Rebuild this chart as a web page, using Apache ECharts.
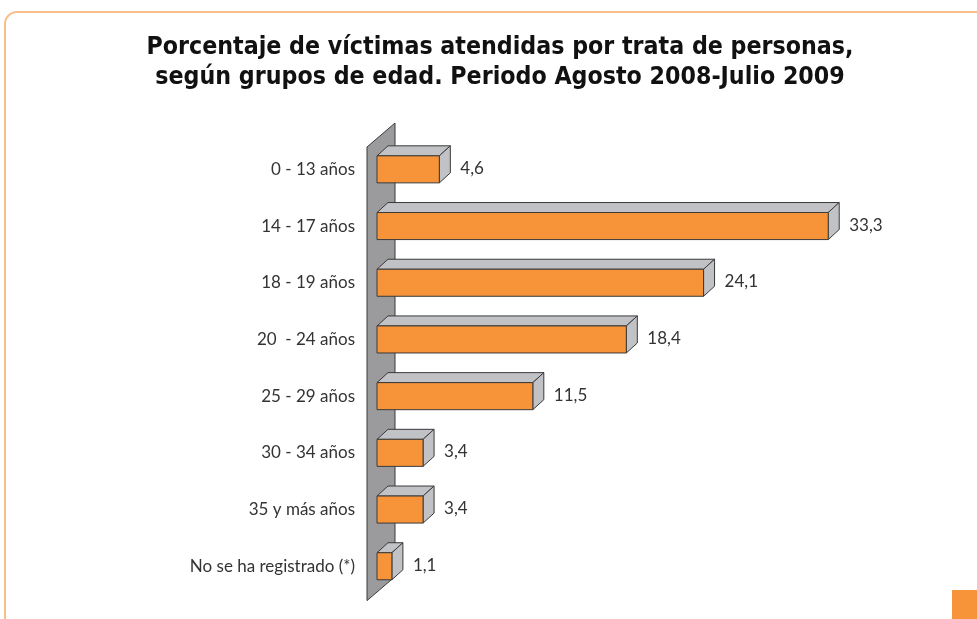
<!DOCTYPE html>
<html>
<head>
<meta charset="utf-8">
<script src="https://cdn.jsdelivr.net/npm/echarts@6/dist/echarts.min.js"></script>
<style>
html,body{margin:0;padding:0;background:#fff;}
#main{width:977px;height:619px;}
</style>
</head>
<body>
<div id="main"></div>
<script>
const titleLines = [
  'Porcentaje de víctimas atendidas por trata de personas,',
  'según grupos de edad. Periodo Agosto 2008-Julio 2009'
];
const categories = ['0 - 13 años','14 - 17 años','18 - 19 años','20  - 24 años','25 - 29 años','30 - 34 años','35 y más años','No se ha registrado (*)'];
const values = [4.6, 33.3, 24.1, 18.4, 11.5, 3.4, 3.4, 1.1];

const ORANGE = '#f7943a';
const SIDE = '#c1c2c5';
const WALL = '#9b9b9e';
const EDGE = '#3a3a3a';

const chart = echarts.init(document.getElementById('main'), null, {renderer:'canvas'});

function fmt(v){ return v.toFixed(1).replace('.', ','); }

const option = {
  backgroundColor: '#ffffff',
  animation: false,
  title: {
    text: titleLines.join('\n'),
    left: 495, top: 28, textAlign: 'center',
    textStyle: {fontFamily: 'DejaVu Sans Condensed', fontWeight: 'bold', fontSize: 24.7, lineHeight: 30, color: '#111'}
  },
  graphic: [
    {type:'rect', shape:{x:5, y:12, width:1100, height:800, r:12}, style:{fill:'none', stroke:'#f9bf8a', lineWidth:2}, z:-10},
    {type:'rect', shape:{x:952, y:590, width:30, height:35}, style:{fill:ORANGE}, z:-10}
  ],
  grid: {left: 377, top: 141, width: 542, height: 453.6, containLabel:false},
  xAxis: {type:'value', min:0, max:40, show:false, splitLine:{show:false}},
  yAxis: {
    type:'category', data: categories, inverse:true,
    axisLine:{show:false}, axisTick:{show:false}, splitLine:{show:false},
    axisLabel:{margin:22, fontFamily:'Lato', fontSize:17, color:'#333'}
  },
  series: [
    {
      type:'custom', name:'wall', data:[[0, 0]], silent:true, z:1,
      renderItem: function(params, api){
        const p0 = api.coord([0, 0]);
        const p7 = api.coord([0, categories.length - 1]);
        const band = api.size([0, 1])[1];
        const xl = p0[0] - 10;
        const yTop = p0[1] - band/2 + 6;
        const yBot = p7[1] + band/2 + 6;
        const dx = 28, dy = -24;
        return {
          type:'polygon',
          shape:{points:[[xl, yTop],[xl+dx, yTop+dy],[xl+dx, yBot+dy],[xl, yBot]]},
          style:{fill:WALL, stroke:EDGE, lineWidth:1}
        };
      }
    },
    {
      type:'custom', name:'bars', z:2,
      data: values.map((v,i)=>[v, i]),
      renderItem: function(params, api){
        const v = api.value(0), i = api.value(1);
        const s = api.coord([0, i]);
        const e = api.coord([v, i]);
        const band = api.size([0, 1])[1];
        const h = band * 0.477;
        const dx = 11, dy = -10;
        const x0 = s[0], x1 = e[0];
        const yT = s[1] - h/2, yB = s[1] + h/2;
        return {
          type:'group',
          children:[
            {type:'polygon', shape:{points:[[x0,yT],[x0+dx,yT+dy],[x1+dx,yT+dy],[x1,yT]]}, style:{fill:SIDE, stroke:EDGE, lineWidth:1}},
            {type:'polygon', shape:{points:[[x1,yT],[x1+dx,yT+dy],[x1+dx,yB+dy],[x1,yB]]}, style:{fill:SIDE, stroke:EDGE, lineWidth:1}},
            {type:'rect', shape:{x:x0, y:yT, width:x1-x0, height:h}, style:{fill:ORANGE, stroke:EDGE, lineWidth:1}},
            {type:'text', style:{x:x1+21, y:s[1]-1, text:fmt(v), fill:'#333', font:'17px Lato', textAlign:'left', textVerticalAlign:'middle'}}
          ]
        };
      }
    }
  ]
};
chart.setOption(option);
</script>
</body>
</html>
